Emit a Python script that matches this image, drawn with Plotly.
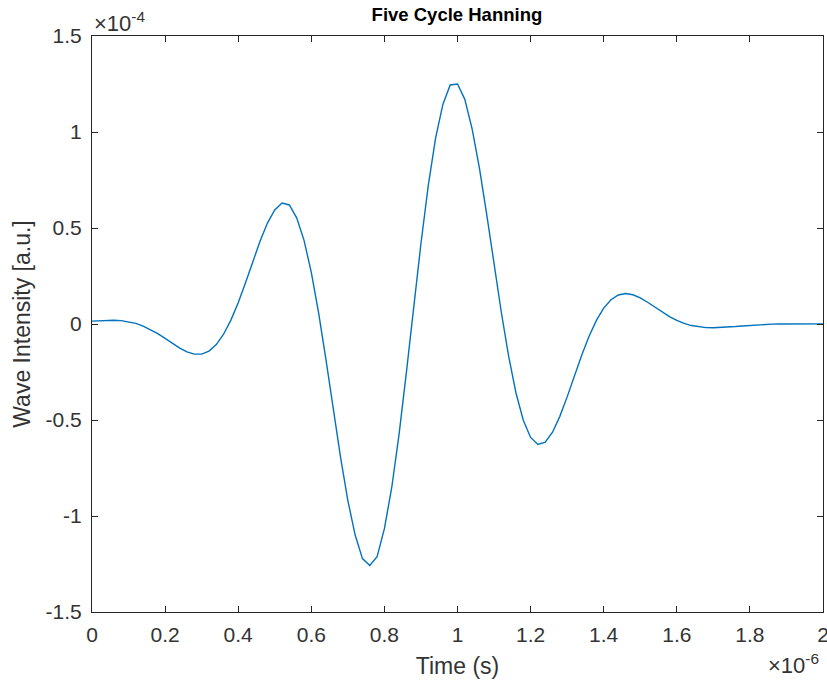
import plotly.graph_objects as go

# Time axis in units of 1e-6 s (sampled every 0.02e-6 s)
time_us = [round(0.02 * k, 2) for k in range(101)]

# Wave intensity in units of 1e-4
intensity_e4 = [
    0.0149, 0.0177, 0.0195, 0.0197, 0.0175, 0.0122, 0.0030, -0.0105, -0.0284, -0.0502,
    -0.0749, -0.1008, -0.1252, -0.1451, -0.1569, -0.1567, -0.1411, -0.1072, -0.0534, 0.0202,
    0.1112, 0.2151, 0.3252, 0.4321, 0.5255, 0.5941, 0.6300, 0.6200, 0.5529, 0.4368,
    0.2694, 0.0583, -0.1843, -0.4415, -0.6937, -0.9198, -1.0991, -1.2220, -1.2580, -1.2120,
    -1.0659, -0.8528, -0.5758, -0.2549, 0.0855, 0.4193, 0.7211, 0.9685, 1.1437, 1.2450,
    1.2500, 1.1700, 1.0164, 0.8114, 0.5695, 0.3122, 0.0600, -0.1687, -0.3592, -0.5014,
    -0.5908, -0.6275, -0.6156, -0.5636, -0.4811, -0.3796, -0.2699, -0.1619, -0.0637, 0.0190,
    0.0828, 0.1266, 0.1510, 0.1585, 0.1523, 0.1359, 0.1133, 0.0878, 0.0623, 0.0388,
    0.0189, 0.0032, -0.0081, -0.0153, -0.0190, -0.0199, -0.0188, -0.0164, -0.0133, -0.0101,
    -0.0070, -0.0045, -0.0024, -0.0008, 0.0002, 0.0009, 0.0012, 0.0012, 0.0011, 0.0010,
    0.0008,
]

x_tickvals = [0, 0.2, 0.4, 0.6, 0.8, 1.0, 1.2, 1.4, 1.6, 1.8, 2.0]
x_ticktext = ["0", "0.2", "0.4", "0.6", "0.8", "1", "1.2", "1.4", "1.6", "1.8", "2"]
y_tickvals = [-1.5, -1.0, -0.5, 0, 0.5, 1.0, 1.5]
y_ticktext = ["-1.5", "-1", "-0.5", "0", "0.5", "1", "1.5"]

AX = "#262626"
TXT = "#333333"
FONT = "Liberation Sans, Arial, Helvetica, sans-serif"

fig = go.Figure()
fig.add_trace(go.Scatter(
    x=time_us, y=intensity_e4, mode="lines",
    line=dict(color="#0072BD", width=1.4),
    showlegend=False,
))

axis_common = dict(
    showline=True, linecolor=AX, linewidth=1, mirror="allticks",
    ticks="inside", ticklen=6, tickwidth=1, tickcolor=AX,
    showgrid=False, zeroline=False,
    tickfont=dict(family=FONT, size=21, color=TXT),
    ticklabeloverflow="allow", automargin=False,
)

fig.update_xaxes(
    range=[0, 2], tickmode="array", tickvals=x_tickvals, ticktext=x_ticktext,
    ticklabelstandoff=4,
    title=dict(text="Time (s)", font=dict(family=FONT, size=23, color=TXT), standoff=12),
    **axis_common,
)
fig.update_yaxes(
    range=[-1.5, 1.5], tickmode="array", tickvals=y_tickvals, ticktext=y_ticktext,
    ticklabelstandoff=5,
    title=dict(text="Wave Intensity [a.u.]", font=dict(family=FONT, size=23, color=TXT), standoff=8),
    **axis_common,
)

fig.update_layout(
    width=827, height=686,
    margin=dict(l=92, r=4, t=36, b=74, pad=0, autoexpand=False),
    plot_bgcolor="white", paper_bgcolor="white",
    title=dict(text="<b>Five Cycle Hanning</b>", x=0.5525, xanchor="center",
               y=0.988, yanchor="top", automargin=False,
               font=dict(family=FONT, size=18.5, color="#000000")),
    annotations=[
        dict(text="×10<sup>-4</sup>", xref="paper", yref="paper", x=0.0, y=1.0,
             xanchor="left", yanchor="bottom", showarrow=False, yshift=-2,
             font=dict(family=FONT, size=22, color=TXT)),
        dict(text="×10<sup>-6</sup>", xref="paper", yref="paper", x=1.0, y=0.0,
             xanchor="right", yanchor="top", showarrow=False, yshift=-36, xshift=-2,
             font=dict(family=FONT, size=22, color=TXT)),
    ],
)

fig.write_html("out.html")
